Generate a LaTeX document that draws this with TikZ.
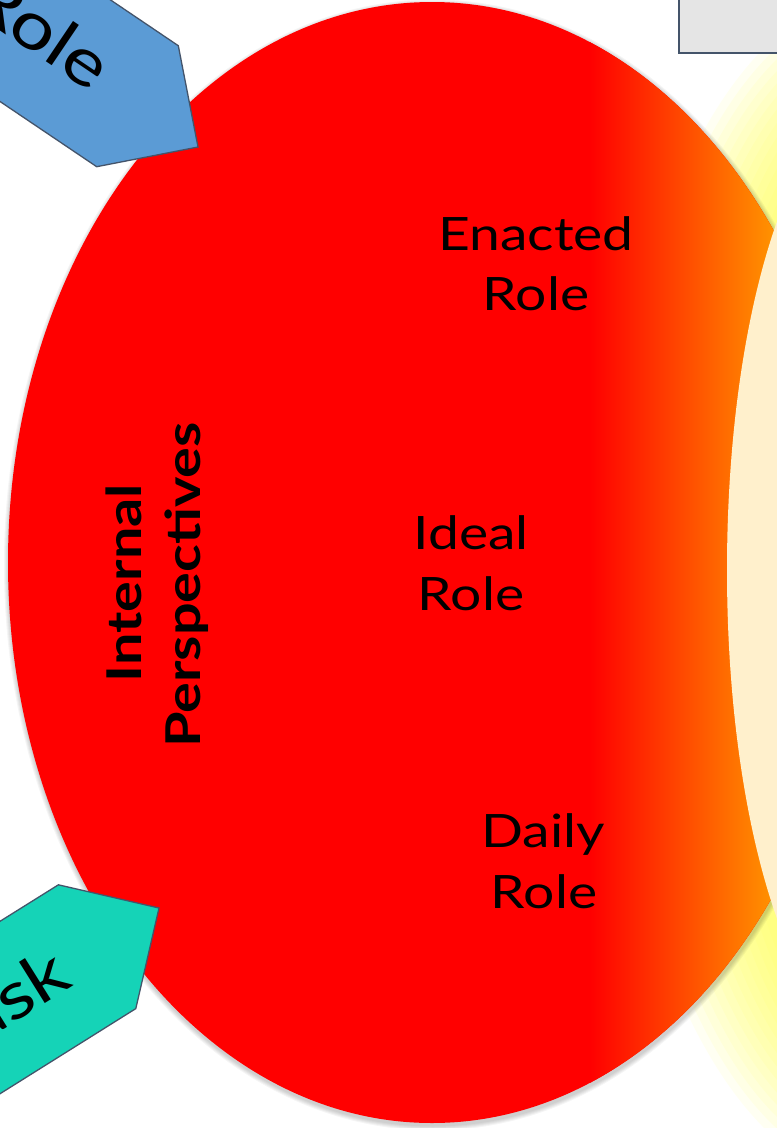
\documentclass[tikz,border=0pt]{standalone}
\usepackage{fontspec}
\setmainfont{Lato}[FakeStretch=1.2]
\begin{document}
\begin{tikzpicture}[x=1pt,y=-1pt,
  lbl/.style={font=\fontsize{46}{55}\selectfont, text=black, inner sep=0pt, anchor=base},
  side/.style={font=\bfseries\fontsize{48}{58}\selectfont, text=black, rotate=90, inner sep=0pt, anchor=base},
  tag/.style={draw=slate, line width=1.3pt, line join=miter},
  tagtext/.style={font=\fontsize{66}{72}\selectfont, text=black, inner sep=0pt, anchor=mid}]
\definecolor{cream}{RGB}{255,240,204}
\definecolor{glow}{RGB}{255,255,60}
\definecolor{boxgray}{RGB}{229,229,229}
\definecolor{slate}{RGB}{68,84,106}
\definecolor{roleblue}{RGB}{91,155,213}
\definecolor{taskteal}{RGB}{21,211,183}

\useasboundingbox (0,0) rectangle (777,1128);
\clip (0,0) rectangle (777,1128);
\fill[white] (0,0) rectangle (777,1128);

% yellow glow round the cream ellipse
\foreach \i in {1,...,14}{
  \pgfmathsetmacro\rx{152+9*\i}
  \pgfmathsetmacro\ry{470+9*\i}
  \fill[glow, opacity=0.065] (882,588) ellipse [x radius=\rx, y radius=\ry];
}

% soft shadow under the red ellipse
\foreach \k in {1,...,5}{
  \pgfmathsetmacro\sx{424+1.0*\k}
  \pgfmathsetmacro\sy{560.5+1.0*\k}
  \fill[black, opacity=0.04] (433,565) ellipse [x radius=\sx, y radius=\sy];
}

% red ellipse, fading towards yellow on its right side
\begin{scope}
  \clip (432,562.5) ellipse [x radius=424, y radius=560.5];
  \fill[red] (0,0) rectangle (910,1130);
  \shade[left color=red, right color=yellow] (590,0) rectangle (910,1130);
\end{scope}

% cream ellipse on the right
\fill[cream] (879,570) ellipse [x radius=152, y radius=470];

% grey box at the top
\draw[slate, fill=boxgray, line width=1.3pt] (679,-5) rectangle (790,53);

% pentagon tags
\draw[tag, fill=roleblue] (-153,-178) -- (178.3,45.7) -- (198,147) -- (96.7,166.7) -- (-235,-57) -- cycle;
\draw[tag, fill=taskteal] (-281,1097) -- (58.4,884.8) -- (159,908) -- (135.8,1008.6) -- (-203,1221) -- cycle;

\node[tagtext, rotate=-34] (role) at (29.8,47.8) {Role};
\node[tagtext, rotate=32] (task) at (8.9,1023.3) {Task};

% labels inside the red ellipse
\node[side] (internal) at (141,583) {Internal};
\node[side] (persp) at (200,585) {Perspectives};

\node[lbl] (enacted) at (536,250) {Enacted};
\node[lbl] (enactedrole) at (536,310) {Role};
\node[lbl] (ideal) at (471,549) {Ideal};
\node[lbl] (idealrole) at (471,610) {Role};
\node[lbl] (daily) at (543,847) {Daily};
\node[lbl] (dailyrole) at (544,908) {Role};
\end{tikzpicture}
\end{document}
